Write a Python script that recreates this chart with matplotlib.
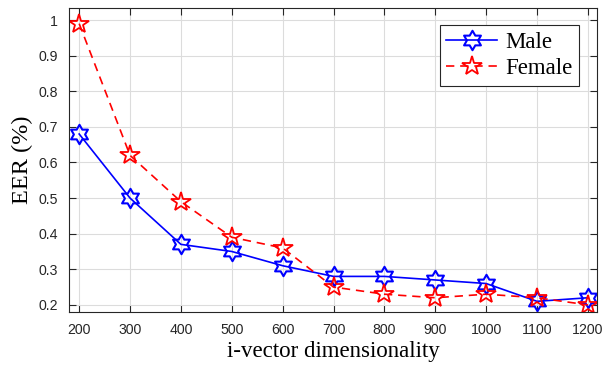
import numpy as np
import matplotlib.pyplot as plt
from matplotlib.path import Path

dims = [200, 300, 400, 500, 600, 700, 800, 900, 1000, 1100, 1200]
eer_male = [0.68, 0.50, 0.37, 0.35, 0.31, 0.28, 0.28, 0.27, 0.26, 0.21, 0.22]
eer_female = [0.99, 0.62, 0.49, 0.39, 0.36, 0.25, 0.23, 0.22, 0.23, 0.22, 0.20]
yticks = [0.2, 0.3, 0.4, 0.5, 0.6, 0.7, 0.8, 0.9, 1.0]
ytick_labels = ['0.2', '0.3', '0.4', '0.5', '0.6', '0.7', '0.8', '0.9', '1']

# six pointed star (MATLAB 'hexagram')
ang = np.pi / 2 + np.arange(12) * np.pi / 6
rad = np.where(np.arange(12) % 2 == 0, 1.0, 1 / np.sqrt(3))
verts = np.column_stack([rad * np.cos(ang), rad * np.sin(ang)])
hexagram = Path(np.vstack([verts, verts[:1]]), closed=True)

fig = plt.figure(figsize=(6.02, 3.69), dpi=100)
ax = fig.add_axes([69 / 602, 1 - 312 / 369, (597 - 69) / 602, (312 - 8) / 369])

ax.plot(dims, eer_male, '-', color='blue', lw=1.2, marker=hexagram,
        ms=14, mfc='none', mec='blue', mew=1.5, label='Male')
ax.plot(dims, eer_female, '--', color='red', lw=1.2, marker='*',
        ms=15, mfc='none', mec='red', mew=1.3, dashes=(5, 3.5), label='Female')

ax.set_xlim(180, 1218)
ax.set_ylim(0.18, 1.034)
ax.set_xticks(dims)
ax.set_yticks(yticks)
ax.set_yticklabels(ytick_labels)
ax.tick_params(direction='in', top=True, right=True, labelsize=10.2,
               length=5, width=0.8, colors='#262626', pad=8)
for lbl in ax.get_xticklabels() + ax.get_yticklabels():
    lbl.set_family('Liberation Sans')
ax.grid(True, color='#dcdcdc', lw=0.8)
ax.set_axisbelow(True)
for s in ax.spines.values():
    s.set_color('#262626')
    s.set_linewidth(0.8)

ax.set_xlabel('i-vector dimensionality', family='Liberation Serif', fontsize=16.5,
              labelpad=3)
ax.set_ylabel('EER (%)', family='Liberation Serif', fontsize=17.5, labelpad=4)

leg = ax.legend(loc='upper right', bbox_to_anchor=(0.966, 0.944),
                borderaxespad=0,
                prop={'family': 'Liberation Serif', 'size': 16.5},
                fancybox=False, edgecolor='#262626', framealpha=1,
                handlelength=2.2, borderpad=0.3, labelspacing=0.22,
                handletextpad=0.35)
leg.get_frame().set_linewidth(0.8)

fig.savefig('out.png', dpi=100)
